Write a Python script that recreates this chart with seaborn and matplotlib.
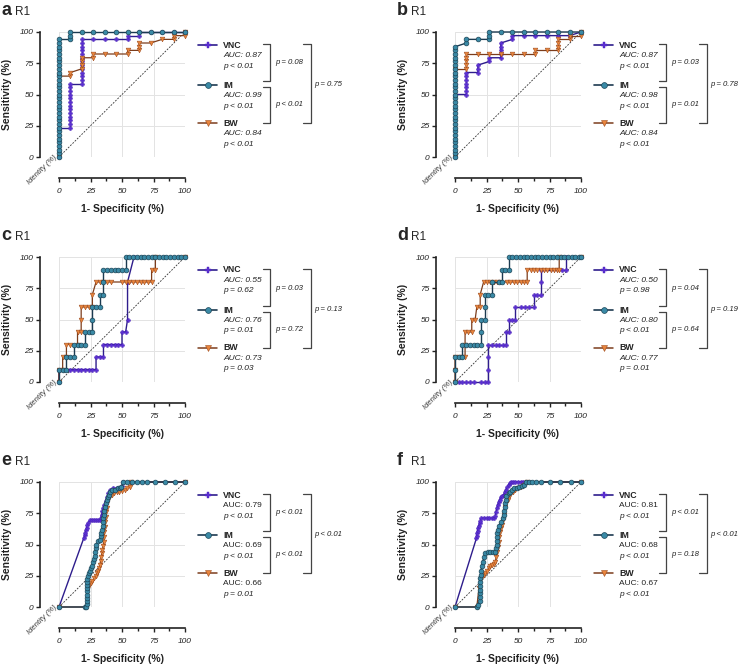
import matplotlib
matplotlib.use("Agg")
import matplotlib.pyplot as plt
from matplotlib.lines import Line2D
import seaborn as sns

# ---------------- data ----------------
# x = 1 - specificity (%), y = sensitivity (%)
a_vnc_x = [0, 0, 9.1, 9.1, 9.1, 9.1, 9.1, 9.1, 9.1, 9.1, 9.1, 9.1, 9.1, 9.1, 9.1,
           18.2, 18.2, 18.2, 18.2, 18.2, 18.2, 18.2, 18.2, 18.2, 18.2, 18.2, 18.2, 18.2,
           27.3, 36.4, 45.5, 54.5, 54.5, 63.6, 63.6, 72.7, 81.8, 90.9, 100]
a_vnc_y = [0, 23.5, 23.5, 26.5, 29.4, 32.4, 35.3, 38.2, 41.2, 44.1, 47.1, 50.0, 52.9, 55.9, 58.8,
           58.8, 61.8, 64.7, 67.6, 70.6, 73.5, 76.5, 79.4, 82.4, 85.3, 88.2, 91.2, 94.1,
           94.1, 94.1, 94.1, 94.1, 97.1, 97.1, 100, 100, 100, 100, 100]
a_im_x = [0, 0, 0, 0, 0, 0, 0, 0, 0, 0, 0, 0, 0, 0, 0, 0, 0, 0, 0, 0, 0, 0, 0, 0, 0, 0, 0, 0, 0, 0, 0, 0, 0,
          9.1, 9.1, 9.1, 18.2, 27.3, 36.4, 45.5, 54.5, 63.6, 72.7, 81.8, 90.9, 100]
a_im_y = [0, 2.9, 5.9, 8.8, 11.8, 14.7, 17.6, 20.6, 23.5, 26.5, 29.4, 32.4, 35.3, 38.2, 41.2, 44.1, 47.1,
          50.0, 52.9, 55.9, 58.8, 61.8, 64.7, 67.6, 70.6, 73.5, 76.5, 79.4, 82.4, 85.3, 88.2, 91.2, 94.1,
          94.1, 97.1, 100, 100, 100, 100, 100, 100, 100, 100, 100, 100, 100]
a_bw_x = [0, 0, 9.1, 9.1, 18.2, 18.2, 18.2, 18.2, 27.3, 27.3, 36.4, 45.5, 54.5, 54.5, 63.6, 63.6, 63.6,
          72.7, 81.8, 90.9, 90.9, 100, 100]
a_bw_y = [0, 64.7, 64.7, 67.6, 70.6, 73.5, 76.5, 79.4, 79.4, 82.4, 82.4, 82.4, 82.4, 85.3, 85.3, 88.2, 91.2,
          91.2, 94.1, 94.1, 97.1, 97.1, 100]

b_vnc_x = [0, 0, 9.1, 9.1, 9.1, 9.1, 9.1, 9.1, 9.1, 18.2, 18.2, 18.2, 27.3, 27.3,
           36.4, 36.4, 36.4, 36.4, 36.4, 45.5, 45.5, 54.5, 63.6, 72.7, 81.8, 90.9, 100]
b_vnc_y = [0, 50.0, 50.0, 52.9, 55.9, 58.8, 61.8, 64.7, 67.6, 67.6, 70.6, 73.5, 76.5, 79.4,
           79.4, 82.4, 85.3, 88.2, 91.2, 94.1, 97.1, 97.1, 97.1, 97.1, 97.1, 97.1, 100]
b_im_x = [0, 0, 0, 0, 0, 0, 0, 0, 0, 0, 0, 0, 0, 0, 0, 0, 0, 0, 0, 0, 0, 0, 0, 0, 0, 0, 0, 0, 0, 0, 0,
          9.1, 9.1, 18.2, 27.3, 27.3, 27.3, 36.4, 45.5, 54.5, 63.6, 72.7, 81.8, 90.9, 100]
b_im_y = [0, 2.9, 5.9, 8.8, 11.8, 14.7, 17.6, 20.6, 23.5, 26.5, 29.4, 32.4, 35.3, 38.2, 41.2, 44.1, 47.1,
          50.0, 52.9, 55.9, 58.8, 61.8, 64.7, 67.6, 70.6, 73.5, 76.5, 79.4, 82.4, 85.3, 88.2,
          91.2, 94.1, 94.1, 94.1, 97.1, 100, 100, 100, 100, 100, 100, 100, 100, 100]
b_bw_x = [0, 0, 9.1, 9.1, 9.1, 9.1, 9.1, 18.2, 27.3, 36.4, 45.5, 54.5, 63.6, 63.6, 72.7, 81.8, 81.8,
          81.8, 81.8, 90.9, 90.9, 100, 100]
b_bw_y = [0, 70.6, 70.6, 73.5, 76.5, 79.4, 82.4, 82.4, 82.4, 82.4, 82.4, 82.4, 82.4, 85.3, 85.3, 85.3, 88.2,
          91.2, 94.1, 94.1, 97.1, 97.1, 100]

c_vnc_x = [0, 0, 8.8, 11.8, 14.7, 17.6, 20.6, 23.5, 26.5, 29.4, 29.4, 32.4, 35.3, 35.3, 38.2, 41.2,
           44.1, 47.1, 50.0, 50.0, 52.9, 54.4, 54.4, 59.5, 100]
c_vnc_y = [0, 10, 10, 10, 10, 10, 10, 10, 10, 10, 20, 20, 20, 30, 30, 30,
           30, 30, 30, 40, 40, 50, 80, 100, 100]
c_im_x = [0, 0, 2.9, 5.9, 5.9, 8.8, 11.8, 11.8, 14.7, 17.6, 20.6, 20.6, 23.5, 26.5, 26.5, 26.5, 29.4,
          32.4, 32.4, 35.3, 35.3, 35.3, 38.2, 41.2, 44.1, 47.1, 50.0, 52.9, 52.9, 55.9, 58.8, 61.8,
          64.7, 67.6, 70.6, 73.5, 76.5, 79.4, 82.4, 85.3, 88.2, 91.2, 94.1, 97.1, 100]
c_im_y = [0, 10, 10, 10, 20, 20, 20, 30, 30, 30, 30, 40, 40, 40, 50, 60, 60,
          60, 70, 70, 80, 90, 90, 90, 90, 90, 90, 90, 100, 100, 100, 100,
          100, 100, 100, 100, 100, 100, 100, 100, 100, 100, 100, 100, 100]
c_bw_x = [0, 0, 2.9, 2.9, 5.9, 5.9, 8.8, 14.7, 14.7, 17.6, 17.6, 17.6, 20.6, 23.5, 26.5, 26.5, 29.4,
          32.4, 35.3, 38.2, 41.2, 50.0, 52.9, 55.9, 58.8, 61.8, 64.7, 67.6, 70.6, 73.5, 73.5, 76.5,
          76.5, 100]
c_bw_y = [0, 10, 10, 20, 20, 30, 30, 30, 40, 40, 50, 60, 60, 60, 60, 70, 80,
          80, 80, 80, 80, 80, 80, 80, 80, 80, 80, 80, 80, 80, 90, 90,
          100, 100]

d_vnc_x = [0, 2.9, 5.9, 8.8, 11.8, 14.7, 20.6, 23.5, 26.5, 26.5, 26.5, 26.5, 29.4, 32.4, 35.3, 38.2,
           40.5, 40.5, 42.7, 42.7, 45.3, 48.0, 48.0, 52.0, 55.2, 58.7, 62.7, 62.7, 65.3, 68.0, 68.0,
           68.0, 85.3, 88.2, 88.2, 100]
d_vnc_y = [0, 0, 0, 0, 0, 0, 0, 0, 0, 10, 20, 30, 30, 30, 30, 30,
           30, 40, 40, 50, 50, 50, 60, 60, 60, 60, 60, 70, 70, 70, 80,
           90, 90, 90, 100, 100]
d_im_x = [0, 0, 0, 2.9, 5.9, 5.9, 8.8, 11.8, 14.7, 17.6, 20.6, 20.6, 20.6, 23.5, 23.5, 23.5, 26.5,
          29.4, 29.4, 34.7, 37.3, 37.3, 40.0, 42.7, 42.7, 45.6, 48.5, 51.5, 54.4, 57.4, 60.3, 63.2,
          66.2, 69.1, 72.1, 75.0, 77.9, 80.9, 83.8, 86.8, 89.7, 92.6, 95.6, 98.5, 100]
d_im_y = [0, 10, 20, 20, 20, 30, 30, 30, 30, 30, 30, 40, 50, 50, 60, 70, 70,
          70, 80, 80, 80, 90, 90, 90, 100, 100, 100, 100, 100, 100, 100, 100,
          100, 100, 100, 100, 100, 100, 100, 100, 100, 100, 100, 100, 100]
d_bw_x = [0, 0, 0, 2.9, 5.9, 8.0, 8.0, 8.0, 10.7, 13.3, 13.3, 16.0, 17.3, 20.0, 20.0, 22.7, 25.3,
          28.0, 30.7, 33.3, 36.0, 41.3, 44.0, 46.7, 49.3, 52.0, 54.7, 57.3, 57.3, 60.0, 62.7, 65.3,
          68.0, 70.7, 73.3, 76.0, 78.7, 81.3, 82.7, 82.7, 100]
d_bw_y = [0, 10, 20, 20, 20, 20, 30, 40, 40, 40, 50, 50, 60, 60, 70, 80, 80,
          80, 80, 80, 80, 80, 80, 80, 80, 80, 80, 80, 90, 90, 90, 90,
          90, 90, 90, 90, 90, 90, 90, 100, 100]

e_vnc_x = [0, 19.8, 20.3, 20.8, 21.4, 22.0, 22.6, 23.2, 24.6, 26.2, 27.8, 29.4, 31.0, 32.5, 33.2,
           33.8, 34.5, 35.2, 36.0, 37.0, 38.0, 39.2, 40.5, 43.0, 45.8, 48.4, 50.0, 51.0, 100]
e_vnc_y = [0, 55.5, 57.5, 59.5, 61.5, 63.5, 65.5, 67.5, 69.5, 69.5, 69.5, 69.5, 69.5, 69.5, 71.5,
           74.0, 76.5, 79.0, 82.0, 85.0, 88.0, 91.0, 93.5, 95.0, 95.0, 95.0, 97.0, 100, 100]
e_im_x = [0, 20.5, 21.8, 22.0, 22.0, 22.0, 22.0, 22.0, 22.0, 22.0, 22.3, 22.6, 23.3, 24.0, 24.8,
          25.7, 26.5, 27.0, 27.6, 28.4, 28.8, 29.2, 29.7, 31.0, 32.4, 33.0, 33.7, 34.2, 34.6, 35.0,
          35.3, 35.6, 36.0, 36.5, 37.0, 37.7, 38.5, 39.3, 40.3, 42.0, 44.3, 46.5, 48.5, 49.6, 51.0,
          53.7, 57.7, 61.6, 65.6, 69.6, 76.0, 84.0, 92.0, 100]
e_im_y = [0, 0, 0, 2.5, 5.0, 7.5, 10.0, 12.5, 15.0, 17.5, 20.0, 22.5, 25.0, 27.0, 29.0,
          31.0, 33.0, 36.0, 38.5, 41.0, 44.0, 47.0, 50.0, 52.5, 54.0, 56.5, 59.0, 62.0, 65.0, 68.0,
          71.0, 74.0, 77.0, 80.0, 83.0, 86.0, 88.0, 90.0, 92.0, 94.0, 94.0, 95.0, 95.0, 96.0, 100,
          100, 100, 100, 100, 100, 100, 100, 100, 100]
e_bw_x = [0, 21.5, 23.0, 24.0, 25.0, 26.5, 28.0, 29.0, 30.0, 31.0, 32.0, 32.5, 33.0, 33.5, 34.0,
          34.5, 35.0, 35.5, 35.8, 36.1, 36.4, 36.8, 37.2, 37.6, 38.0, 38.4, 40.0, 42.0, 44.0, 46.0,
          48.0, 50.0, 52.0, 54.0, 56.0, 57.0, 100]
e_bw_y = [0, 0, 15.0, 17.6, 19.0, 21.0, 23.0, 25.0, 27.0, 28.5, 31.0, 34.0, 37.0, 40.0, 43.0,
          46.0, 49.0, 52.0, 56.0, 60.0, 64.0, 68.0, 72.0, 76.0, 79.0, 83.0, 87.0, 90.0, 91.0, 92.0,
          92.0, 93.0, 94.0, 95.0, 96.0, 100, 100]

f_vnc_x = [0, 17.0, 17.3, 17.6, 18.0, 18.4, 18.8, 19.5, 20.2, 21.0, 23.0, 25.0, 27.0, 29.0, 31.0,
           32.0, 32.5, 33.2, 34.0, 34.7, 35.5, 36.5, 37.5, 38.7, 39.5, 40.5, 41.5, 42.5, 43.5, 44.5,
           46.0, 48.0, 50.0, 52.0, 54.0, 56.0, 100]
f_vnc_y = [0, 55.0, 57.0, 59.0, 61.0, 63.0, 65.0, 67.0, 69.0, 71.0, 71.0, 71.0, 71.0, 71.0, 71.0,
           73.0, 76.0, 79.0, 82.0, 84.0, 86.0, 88.0, 89.0, 90.0, 92.0, 94.0, 96.0, 98.0, 99.0, 100,
           100, 100, 100, 100, 100, 100, 100]
f_im_x = [0, 17.3, 18.5, 19.5, 19.8, 20.0, 20.0, 20.0, 20.0, 20.0, 20.3, 20.6, 21.3, 22.0, 23.0,
          24.0, 26.0, 28.0, 30.0, 32.0, 32.5, 33.0, 33.0, 33.3, 33.6, 34.0, 35.0, 36.5, 38.0, 38.5,
          39.0, 39.5, 40.0, 40.5, 40.8, 42.5, 44.0, 45.3, 47.0, 49.0, 51.0, 53.0, 55.0, 56.0, 58.7,
          61.3, 64.0, 68.0, 75.0, 83.0, 92.0, 100]
f_im_y = [0, 0, 2, 5, 8, 11, 14, 17, 20, 23, 26, 29, 33, 36, 40,
          43, 44, 44, 44, 44, 47, 50, 53, 56, 59, 62, 65, 68, 71, 74,
          77, 80, 83, 86, 89, 91, 92, 94, 95, 95, 96, 97, 98, 100, 100,
          100, 100, 100, 100, 100, 100, 100]
f_bw_x = [0, 17.3, 19.0, 20.0, 21.3, 22.7, 24.0, 25.3, 26.7, 28.0, 29.3, 30.7, 32.0, 32.7, 33.3,
          34.0, 34.7, 35.3, 36.0, 36.7, 37.3, 38.0, 38.7, 40.0, 42.0, 44.0, 46.0, 48.0, 50.0, 52.0,
          54.0, 55.0, 56.0, 57.0, 100]
f_bw_y = [0, 0, 15.0, 22.0, 24.0, 25.6, 27.0, 29.0, 31.0, 32.5, 33.6, 34.7, 36.0, 40.0, 44.0,
          48.0, 52.0, 56.0, 60.0, 63.0, 66.0, 70.0, 73.6, 80.0, 86.0, 90.0, 92.0, 93.6, 95.0, 96.0,
          97.0, 98.0, 99.0, 100, 100]

identity = [0, 100]
ticks = [0, 25, 50, 75, 100]
minor_ticks = [12.5, 37.5, 62.5, 87.5]
tick_labels = ['0', '25', '50', '75', '100']
methods = ['VNC', 'IM', 'BW']

a_auc = ['AUC: 0.87', 'AUC: 0.99', 'AUC: 0.84']
a_p = ['p < 0.01', 'p < 0.01', 'p < 0.01']
a_cmp = ['p = 0.08', 'p < 0.01', 'p = 0.75']
b_auc = ['AUC: 0.87', 'AUC: 0.98', 'AUC: 0.84']
b_p = ['p < 0.01', 'p < 0.01', 'p < 0.01']
b_cmp = ['p = 0.03', 'p = 0.01', 'p = 0.78']
c_auc = ['AUC: 0.55', 'AUC: 0.76', 'AUC: 0.73']
c_p = ['p = 0.62', 'p = 0.01', 'p = 0.03']
c_cmp = ['p = 0.03', 'p = 0.72', 'p = 0.13']
d_auc = ['AUC: 0.50', 'AUC: 0.80', 'AUC: 0.77']
d_p = ['p = 0.98', 'p < 0.01', 'p = 0.01']
d_cmp = ['p = 0.04', 'p = 0.64', 'p = 0.19']
e_auc = ['AUC: 0.79', 'AUC: 0.69', 'AUC: 0.66']
e_p = ['p < 0.01', 'p < 0.01', 'p = 0.01']
e_cmp = ['p < 0.01', 'p < 0.01', 'p < 0.01']
f_auc = ['AUC: 0.81', 'AUC: 0.68', 'AUC: 0.67']
f_p = ['p < 0.01', 'p < 0.01', 'p < 0.01']
f_cmp = ['p < 0.01', 'p = 0.18', 'p < 0.01']

# ---------------- style ----------------
sns.set_style("white")
plt.rcParams['font.family'] = ['Liberation Sans', 'DejaVu Sans']
narrow = ['Liberation Sans Narrow', 'Liberation Sans', 'DejaVu Sans']

W, H = 739, 667
PW, PH = 126, 125
fig = plt.figure(figsize=(W / 100, H / 100), dpi=100)


def fx(p):
    return p / W


def fy(p):
    return 1 - p / H


styles = {
    'VNC': dict(color='#2e1d8c', lw=1.0, marker='P', markersize=3.0,
                markerfacecolor='#5b2fd2', markeredgecolor='#4a22b8', markeredgewidth=0.3),
    'IM': dict(color='#1c3a50', lw=1.0, marker='o', markersize=3.4,
               markerfacecolor='#3a8aa6', markeredgecolor='#1d4658', markeredgewidth=0.5),
    'BW': dict(color='#7c3d1c', lw=0.9, marker='v', markersize=3.4,
               markerfacecolor='#e8853d', markeredgecolor='#a14e20', markeredgewidth=0.4),
}

panels = [
    ('a', 59, 32, {'VNC': (a_vnc_x, a_vnc_y), 'IM': (a_im_x, a_im_y), 'BW': (a_bw_x, a_bw_y)}, a_auc, a_p, a_cmp, True),
    ('b', 455, 32, {'VNC': (b_vnc_x, b_vnc_y), 'IM': (b_im_x, b_im_y), 'BW': (b_bw_x, b_bw_y)}, b_auc, b_p, b_cmp, True),
    ('c', 59, 257, {'VNC': (c_vnc_x, c_vnc_y), 'IM': (c_im_x, c_im_y), 'BW': (c_bw_x, c_bw_y)}, c_auc, c_p, c_cmp, True),
    ('d', 455, 257, {'VNC': (d_vnc_x, d_vnc_y), 'IM': (d_im_x, d_im_y), 'BW': (d_bw_x, d_bw_y)}, d_auc, d_p, d_cmp, True),
    ('e', 59, 482, {'VNC': (e_vnc_x, e_vnc_y), 'IM': (e_im_x, e_im_y), 'BW': (e_bw_x, e_bw_y)}, e_auc, e_p, e_cmp, False),
    ('f', 455, 482, {'VNC': (f_vnc_x, f_vnc_y), 'IM': (f_im_x, f_im_y), 'BW': (f_bw_x, f_bw_y)}, f_auc, f_p, f_cmp, False),
]

ink = '#222222'
for letter, L, T, curves, aucs, pvals, cmps, auc_italic in panels:
    ax = fig.add_axes([fx(L), fy(T + PH), PW / W, PH / H])
    ax.plot(identity, identity, color='#333333', lw=0.6, ls=(0, (2.2, 1.6)), zorder=2)
    for z, m in zip([3, 4, 5], ['VNC', 'BW', 'IM']):
        xs, ys = curves[m]
        sns.lineplot(x=xs, y=ys, ax=ax, estimator=None, sort=False,
                     clip_on=False, zorder=z, **styles[m])
    ax.set_xlim(0, 100)
    ax.set_ylim(0, 100)
    ax.set_xticks(ticks)
    ax.set_xticks(minor_ticks, minor=True)
    ax.set_yticks(ticks)
    ax.set_xticklabels(tick_labels)
    ax.set_yticklabels(tick_labels)
    ax.grid(True, which='major', color='#e3e3e3', lw=0.7)
    ax.set_axisbelow(True)
    for s in ['top', 'right']:
        ax.spines[s].set_visible(False)
    ax.spines['left'].set_position(('outward', 14))
    ax.spines['bottom'].set_position(('outward', 15))
    for s in ['left', 'bottom']:
        ax.spines[s].set_color(ink)
        ax.spines[s].set_linewidth(1.2)
    ax.tick_params(which='major', direction='out', length=3, width=1.0, color=ink,
                   left=True, bottom=True, labelcolor=ink, labelsize=6)
    ax.tick_params(axis='x', which='major', pad=4.5)
    ax.tick_params(axis='y', which='major', pad=1.2)
    ax.tick_params(which='minor', direction='out', length=2, width=1.0, color=ink, bottom=True)
    for lab in ax.get_xticklabels() + ax.get_yticklabels():
        lab.set_fontstyle('italic')
        lab.set_fontsize(6)
    ax.set_ylabel('Sensitivity (%)', fontweight='bold', fontsize=7.5, color=ink)
    ax.set_xlabel('1- Specificity (%)', fontweight='bold', fontsize=7.5, color=ink)
    ax.yaxis.set_label_coords(-47 / PW, 0.5)
    ax.xaxis.set_label_coords(0.5, -47 / PH)

    fig.text(fx(L - 17), fy(T + PH + 13), 'Identity (%)', rotation=45, ha='center',
             va='center', fontsize=5.5, fontstyle='italic', color='#333333')
    fig.text(fx(L - 58), fy(T - 17), letter, fontsize=13, fontweight='bold', va='baseline')
    fig.text(fx(L - 44), fy(T - 17), 'R1', fontsize=8.5, va='baseline')

    # legend block
    for i, m in enumerate(methods):
        dy = T + [13, 53, 91][i]
        st = styles[m]
        fig.add_artist(Line2D([fx(L + 139), fx(L + 148.5), fx(L + 158)], [fy(dy)] * 3,
                              transform=fig.transFigure, markevery=[1],
                              color=st['color'], lw=st['lw'] + 0.2, marker=st['marker'],
                              markersize=st['markersize'] + 0.8,
                              markerfacecolor=st['markerfacecolor'],
                              markeredgecolor=st['markeredgecolor'],
                              markeredgewidth=st['markeredgewidth']))
        fig.text(fx(L + 164), fy(dy), m, fontsize=6.3, fontweight='bold', va='center', color=ink)
        fig.text(fx(L + 164), fy(dy + 10.5), aucs[i], fontsize=6, va='center', color=ink,
                 family=narrow, fontstyle='italic' if auc_italic else 'normal')
        fig.text(fx(L + 164), fy(dy + 21), pvals[i], fontsize=6, va='center', color=ink,
                 family=narrow, fontstyle='italic')

    # comparison brackets
    for (x0, x1, y0, y1) in [(L + 204, L + 211, T + 12, T + 49),
                             (L + 204, L + 211, T + 55, T + 91),
                             (L + 244, L + 252, T + 12, T + 91)]:
        fig.add_artist(Line2D([fx(x0), fx(x1), fx(x1), fx(x0)], [fy(y0), fy(y0), fy(y1), fy(y1)],
                              transform=fig.transFigure, color='#444444', lw=0.9))
    for txt, (px, py) in zip(cmps, [(L + 216, T + 31), (L + 216, T + 73), (L + 255, T + 52)]):
        fig.text(fx(px), fy(py), txt, fontsize=5.6, fontstyle='italic', va='center',
                 color=ink, family=narrow)

fig.savefig('out.png', dpi=100)
